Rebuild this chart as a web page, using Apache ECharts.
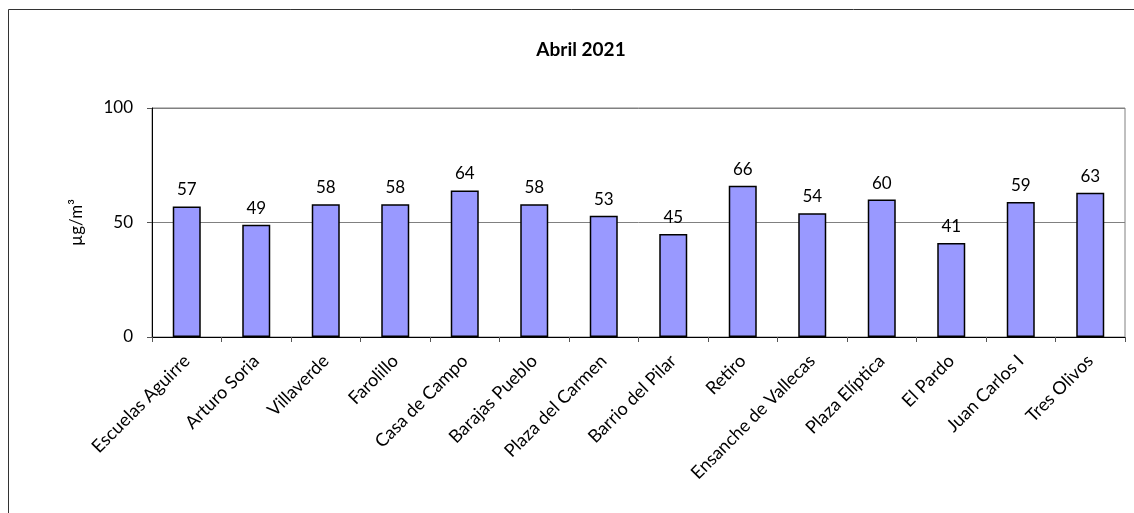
<!DOCTYPE html>
<html><head><meta charset="utf-8">
<script src="https://cdn.jsdelivr.net/npm/echarts@6/dist/echarts.min.js"></script>
<style>html,body{margin:0;padding:0;background:#fff}#c{width:1134px;height:513px}</style>
</head><body><div id="c"></div>
<script>
const categories = ["Escuelas Aguirre","Arturo Soria","Villaverde","Farolillo","Casa de Campo","Barajas Pueblo","Plaza del Carmen","Barrio del Pilar","Retiro","Ensanche de Vallecas","Plaza Elíptica","El Pardo","Juan Carlos I","Tres Olivos"];
const values = [57,49,58,58,64,58,53,45,66,54,60,41,59,63];
const yTicks = [0,50,100];
const titleText = "Abril 2021";
const yName = "µg/m³";
const font = "Lato, 'Open Sans', sans-serif";
const chart = echarts.init(document.getElementById('c'), null, {renderer:'canvas'});
chart.setOption({
  animation:false,
  backgroundColor:'#fff',
  title:{text:titleText,left:576,top:35,textAlign:'center',textStyle:{fontFamily:font,fontSize:19,fontWeight:'bold',color:'#000'}},
  graphic:[{type:'rect',shape:{x:8.5,y:9.5,width:1200,height:600},style:{fill:'none',stroke:'#333',lineWidth:1},silent:true}],
  grid:{left:152,right:9,top:108,bottom:176,show:true,borderColor:'#808080',borderWidth:1,backgroundColor:'transparent'},
  xAxis:{type:'category',data:categories,
    axisLine:{lineStyle:{color:'#000',width:1}},
    axisTick:{show:true,length:5,lineStyle:{color:'#555'},alignWithLabel:false},
    axisLabel:{rotate:45,interval:0,fontFamily:font,fontSize:18,color:'#000',margin:21}},
  yAxis:{type:'value',min:0,max:100,interval:50,
    name:yName,nameLocation:'middle',nameGap:67,nameRotate:90,
    nameTextStyle:{fontFamily:font,fontSize:17,color:'#000'},
    axisLine:{show:true,lineStyle:{color:'#000',width:1}},
    axisTick:{show:true,length:5,lineStyle:{color:'#555'}},
    axisLabel:{fontFamily:font,fontSize:17,color:'#000',margin:19,
      formatter:v=>yTicks.includes(v)?String(v):''},
    splitLine:{show:true,lineStyle:{color:'#808080',width:1}}},
  series:[{type:'bar',data:values,barWidth:28,
    itemStyle:{color:'#9999FF',borderColor:'#000',borderWidth:1.5},
    label:{show:true,position:'top',distance:8,fontFamily:font,fontSize:17,color:'#000'}}]
});
</script></body></html>
